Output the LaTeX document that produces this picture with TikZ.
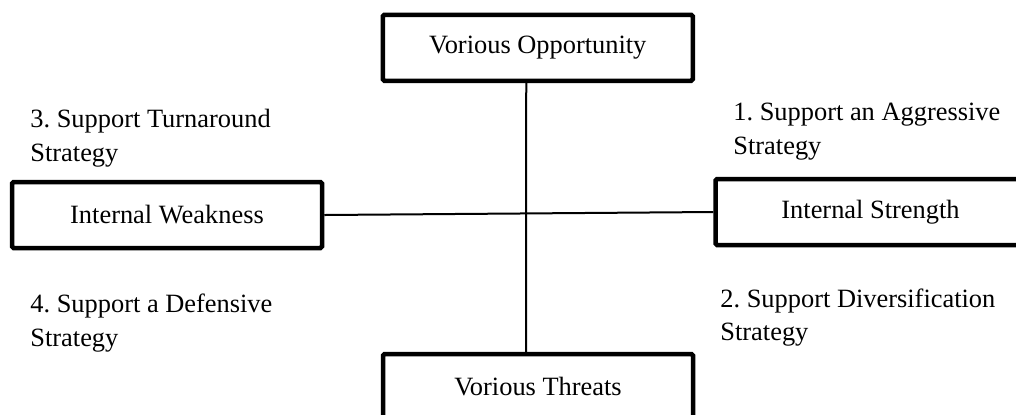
\documentclass[tikz,border=0pt]{standalone}
\usepackage{fontspec}
\setmainfont{Liberation Serif}
\frenchspacing
\tikzset{
    box/.style={draw, line width=2.25pt, rounded corners=0.8pt, inner sep=0pt,
        minimum width=155pt, minimum height=33pt},
    quad/.style={anchor=north west, align=left, inner sep=0pt}
}
\begin{document}
\begin{tikzpicture}[x=0.5pt, y=-0.5pt, font=\fontsize{13.2}{17}\selectfont]
        \useasboundingbox (0,0) rectangle (1016,414);
        \node [box] (opp) at (537.75,47.75) {Vorious Opportunity};
        \node [box] (weak) at (167,215) {Internal Weakness};
        \node [box] (strong) at (870.5,212) {Internal Strength};
        \node [box] (threat) at (538,387) {Vorious Threats};
        \draw [line width=1pt] (weak.east) -- (strong.west);
        \draw [line width=1pt] ([xshift=-5.75pt]opp.south) -- ([xshift=-6pt]threat.north);
        \node [quad] (q3) at (30,109) {3. Support Turnaround\\Strategy};
        \node [quad] (q1) at (733,103) {1. Support an Aggressive\\Strategy};
        \node [quad] (q4) at (30,293) {4. Support a Defensive\\Strategy};
        \node [quad] (q2) at (720,288) {2. Support Diversification\\Strategy};
    \end{tikzpicture}
\end{document}
